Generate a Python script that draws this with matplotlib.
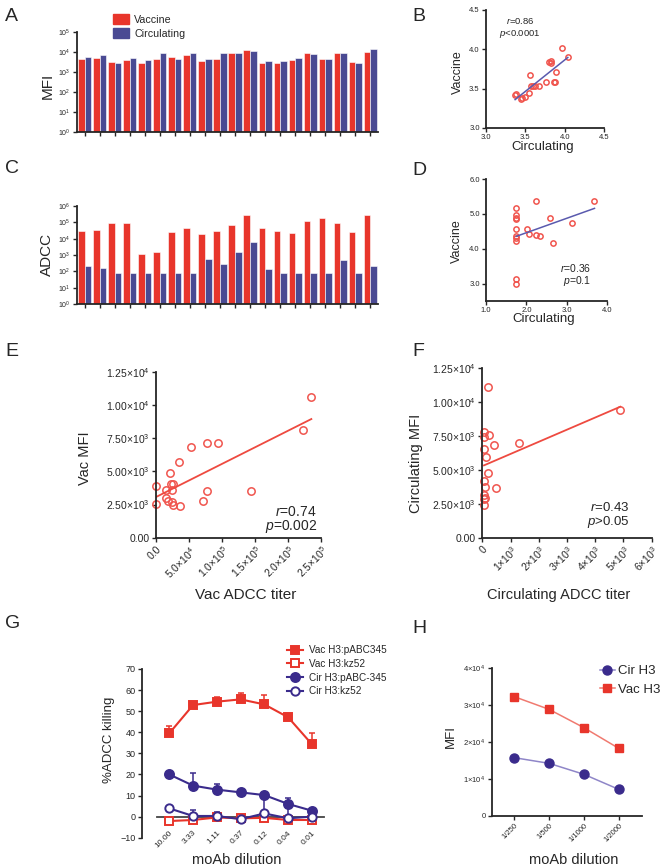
import numpy as np
import matplotlib
matplotlib.use("Agg")
import matplotlib.pyplot as plt
from matplotlib.patches import Patch
from matplotlib.lines import Line2D

plt.rcParams['font.family'] = ['Liberation Sans', 'DejaVu Sans']
plt.rcParams['mathtext.fontset'] = 'custom'
plt.rcParams['mathtext.rm'] = 'Liberation Sans'
plt.rcParams['mathtext.it'] = 'Liberation Sans:italic'
plt.rcParams['mathtext.default'] = 'regular'
for k in ['text.color', 'axes.labelcolor', 'xtick.color', 'ytick.color']:
    plt.rcParams[k] = '#262626'

# ---- data ----
# A: MFI per donor, log10
mfi_vac_log = [3.63, 3.68, 3.52, 3.62, 3.47, 3.67, 3.77, 3.83, 3.55, 3.67,
               3.93, 4.12, 3.47, 3.47, 3.62, 3.93, 3.63, 3.93, 3.52, 4.00]
mfi_cir_log = [3.77, 3.85, 3.47, 3.72, 3.58, 3.95, 3.65, 3.97, 3.63, 3.97,
               3.93, 4.07, 3.55, 3.53, 3.68, 3.90, 3.65, 3.93, 3.47, 4.13]
# C: ADCC titer per donor, log10
adcc_vac_log = [4.49, 4.51, 4.94, 4.98, 3.09, 3.21, 4.43, 4.65, 4.27, 4.45,
                4.82, 5.44, 4.67, 4.49, 4.33, 5.08, 5.24, 4.98, 4.41, 5.44]
adcc_cir_log = [2.35, 2.18, 1.88, 1.88, 1.88, 1.88, 1.88, 1.88, 2.75, 2.43,
                3.19, 3.79, 2.14, 1.88, 1.88, 1.88, 1.88, 2.69, 1.88, 2.35]
# B: log MFI, circulating vs vaccine
b_cir = [3.37, 3.38, 3.44, 3.46, 3.49, 3.55, 3.56, 3.57, 3.60, 3.62, 3.68,
         3.76, 3.80, 3.82, 3.83, 3.87, 3.88, 3.89, 3.97, 4.04]
b_vac = [3.42, 3.43, 3.37, 3.38, 3.39, 3.45, 3.68, 3.53, 3.53, 3.53, 3.54,
         3.59, 3.84, 3.85, 3.83, 3.58, 3.59, 3.71, 4.02, 3.90]
# D: log ADCC, circulating vs vaccine
d_cir = [1.75, 1.75, 1.75, 1.75, 1.75, 1.75, 1.75, 1.75, 1.75, 1.75,
         2.01, 2.07, 2.24, 2.24, 2.33, 2.59, 2.66, 3.12, 3.69]
d_vac = [5.16, 4.97, 4.87, 4.85, 4.56, 4.37, 4.30, 4.23, 3.14, 3.00,
         4.57, 4.41, 5.36, 4.39, 4.37, 4.89, 4.17, 4.73, 5.38]
# E: Vac ADCC titer vs Vac MFI
e_adcc = [0, 1000, 15100, 15100, 19200, 21200, 23200, 24200, 25200, 25700,
          26700, 35300, 37300, 53400, 71600, 77100, 78100, 94800, 144200,
          222300, 235400]
e_mfi = [2510, 3915, 3590, 2960, 2760, 4900, 4040, 3590, 2710, 2490,
         4040, 5720, 2410, 6830, 2760, 3510, 7130, 7130, 3540, 8110, 10590]
# F: Circulating ADCC titer vs Circulating MFI
f_adcc = [189, 59, 248, 59, 401, 1310, 59, 130, 189, 59, 83, 472, 59, 94,
          59, 59, 4888]
f_mfi = [11100, 7790, 7550, 7430, 6810, 6960, 6520, 5930, 4750, 4170, 3750,
         3630, 3140, 2890, 2820, 2400, 9390]
# G: %ADCC killing vs moAb dilution
g_dil = ['10.00', '3.33', '1.11', '0.37', '0.12', '0.04', '0.01']
vac_pabc = [39.5, 52.9, 54.5, 55.6, 53.2, 47.1, 34.3]
vac_pabc_err = [3.3, 0.8, 2.0, 3.0, 4.3, 0.5, 5.3]
vac_kz = [-2.1, -1.6, -0.4, -0.8, -0.6, -1.6, -1.6]
vac_kz_err = [0.4, 0.4, 0.4, 0.4, 0.4, 0.4, 0.4]
cir_pabc = [20.0, 14.7, 12.8, 11.5, 10.2, 6.0, 2.8]
cir_pabc_err = [0.5, 5.8, 2.7, 0.5, 0.5, 2.9, 0.5]
cir_kz = [3.9, 0.3, 0.3, -1.2, 1.5, -0.8, 0.0]
cir_kz_err = [0.5, 3.0, 1.8, 0.5, 8.5, 5.0, 0.5]
# H: MFI vs moAb dilution
h_dil = ['1/250', '1/500', '1/1000', '1/2000']
h_cir = [15730, 14200, 11240, 7190]
h_vac = [32180, 28760, 23820, 18250]

RED = '#E8352B'
BLUE = '#4A4A93'
SCAT = '#F0554E'
FIT_BLUE = '#5A5AAE'
NAVY = '#3A2B8C'

W, H = 662, 867
fig = plt.figure(figsize=(W / 100, H / 100), dpi=100)


def px_axes(x0, y0, x1, y1):
    return fig.add_axes([x0 / W, 1 - y1 / H, (x1 - x0) / W, (y1 - y0) / H])


def style(ax, ts=6):
    for s in ['top', 'right']:
        ax.spines[s].set_visible(False)
    for s in ['left', 'bottom']:
        ax.spines[s].set_linewidth(1.3)
        ax.spines[s].set_color('#262626')
    ax.tick_params(direction='out', length=3, width=1, labelsize=ts, pad=1.5)


def panel(x, y, s):
    fig.text(x / W, 1 - y / H, s, fontsize=14, va='top', ha='left')


# ---- A ----
axA = px_axes(77, 32, 378, 132)
idx = np.arange(len(mfi_vac_log))
axA.bar(idx - 0.22, 10 ** np.array(mfi_vac_log) - 1, bottom=1, width=0.44,
        color=RED, edgecolor='white', linewidth=0.4)
axA.bar(idx + 0.22, 10 ** np.array(mfi_cir_log) - 1, bottom=1, width=0.44,
        color=BLUE, edgecolor='white', linewidth=0.4)
axA.set_yscale('log')
axA.set_ylim(1, 1e5)
axA.set_xlim(-0.5, len(idx) - 0.5)
axA.set_yticks([10 ** k for k in range(6)])
axA.set_yticklabels(['10$^{%d}$' % k for k in range(6)])
axA.minorticks_off()
axA.set_xticks(idx)
axA.set_xticklabels([])
style(axA, ts=5)
axA.set_ylabel('MFI', fontsize=11)
axA.yaxis.set_label_coords(-0.073, 0.46)
fig.legend([Patch(color=RED), Patch(color=BLUE)], ['Vaccine', 'Circulating'],
           loc='upper left', bbox_to_anchor=(113 / W, 1 - 14 / H),
           frameon=False, fontsize=7.7, handlelength=1.5, handleheight=1.1,
           labelspacing=0.3, handletextpad=0.5, borderpad=0, borderaxespad=0)

# ---- C ----
axC = px_axes(77, 206, 378, 304)
axC.bar(idx - 0.22, 10 ** np.array(adcc_vac_log) - 1, bottom=1, width=0.44,
        color=RED, edgecolor='white', linewidth=0.4)
axC.bar(idx + 0.22, 10 ** np.array(adcc_cir_log) - 1, bottom=1, width=0.44,
        color=BLUE, edgecolor='white', linewidth=0.4)
axC.set_yscale('log')
axC.set_ylim(1, 1e6)
axC.set_xlim(-0.5, len(idx) - 0.5)
axC.set_yticks([10 ** k for k in range(7)])
axC.set_yticklabels(['10$^{%d}$' % k for k in range(7)])
axC.minorticks_off()
axC.set_xticks(idx)
axC.set_xticklabels([])
style(axC, ts=5)
axC.set_ylabel('ADCC', fontsize=11)
axC.yaxis.set_label_coords(-0.076, 0.51)


def scatter_fit(ax, x, y, ms, fitc, lw):
    ax.plot(x, y, 'o', ms=ms, mfc='none', mec=SCAT, mew=1.1, clip_on=False)
    a, b = np.polyfit(x, y, 1)
    xs = np.array([min(x), max(x)])
    ax.plot(xs, a * xs + b, color=fitc, lw=lw)


# ---- B ----
axB = px_axes(486, 10, 604, 128)
scatter_fit(axB, b_cir, b_vac, 3.8, FIT_BLUE, 1.1)
axB.set_xlim(3, 4.5)
axB.set_ylim(3, 4.5)
axB.set_xticks([3.0, 3.5, 4.0, 4.5])
axB.set_yticks([3.0, 3.5, 4.0, 4.5])
axB.xaxis.set_major_formatter('{x:.1f}')
axB.yaxis.set_major_formatter('{x:.1f}')
style(axB, ts=5.5)
axB.set_ylabel('Vaccine', fontsize=9)
axB.yaxis.set_label_coords(-0.19, 0.47)
axB.set_xlabel('Circulating', fontsize=9.5)
axB.xaxis.set_label_coords(0.48, -0.11)
axB.text(0.29, 0.91, '$\\it{r}$=0.86', transform=axB.transAxes, ha='center',
         va='center', fontsize=6.8)
axB.text(0.29, 0.80, '$\\it{p}$<0.0001', transform=axB.transAxes, ha='center',
         va='center', fontsize=6.8)

# ---- D ----
axD = px_axes(486, 179, 607, 301)
scatter_fit(axD, d_cir, d_vac, 3.8, FIT_BLUE, 1.1)
axD.set_xlim(1, 4)
axD.set_ylim(2.5, 6)
axD.set_xticks([1.0, 2.0, 3.0, 4.0])
axD.set_yticks([3.0, 4.0, 5.0, 6.0])
axD.xaxis.set_major_formatter('{x:.1f}')
axD.yaxis.set_major_formatter('{x:.1f}')
style(axD, ts=5.5)
axD.set_ylabel('Vaccine', fontsize=9)
axD.yaxis.set_label_coords(-0.19, 0.49)
axD.set_xlabel('Circulating', fontsize=9.5)
axD.xaxis.set_label_coords(0.475, -0.095)
axD.text(0.61, 0.27, '$\\it{r}$=0.36', transform=axD.transAxes, ha='left',
         va='center', fontsize=7.5)
axD.text(0.64, 0.16, '$\\it{p}$=0.1', transform=axD.transAxes, ha='left',
         va='center', fontsize=7.5)

# ---- E ----
axE = px_axes(155.7, 371.7, 321, 537.7)
scatter_fit(axE, e_adcc, e_mfi, 5.3, '#EE4A40', 1.3)
axE.set_xlim(0, 2.5e5)
axE.set_ylim(0, 1.25e4)
axE.set_xticks([0, 5e4, 1e5, 1.5e5, 2e5, 2.5e5])
axE.set_xticklabels(['0.0', '5.0×10$^{4}$', '1.0×10$^{5}$', '1.5×10$^{5}$',
                     '2.0×10$^{5}$', '2.5×10$^{5}$'], rotation=45, ha='right',
                    rotation_mode='anchor')
axE.set_yticks([0, 2500, 5000, 7500, 10000, 12500])
axE.set_yticklabels(['0.00', '2.50×10$^{3}$', '5.00×10$^{3}$', '7.50×10$^{3}$',
                     '1.00×10$^{4}$', '1.25×10$^{4}$'])
style(axE, ts=7.5)
axE.set_ylabel('Vac MFI', fontsize=10.5)
axE.yaxis.set_label_coords(-0.387, 0.48)
axE.set_xlabel('Vac ADCC titer', fontsize=11)
axE.xaxis.set_label_coords(0.545, -0.30)
axE.text(0.975, 0.157, '$\\it{r}$=0.74', transform=axE.transAxes, ha='right',
         va='center', fontsize=10)
axE.text(0.975, 0.07, '$\\it{p}$=0.002', transform=axE.transAxes, ha='right',
         va='center', fontsize=10)

# ---- F ----
axF = px_axes(482.3, 367.7, 651.7, 537.7)
scatter_fit(axF, f_adcc, f_mfi, 5.3, '#EE4A40', 1.3)
axF.set_xlim(0, 6e3)
axF.set_ylim(0, 1.25e4)
axF.set_xticks([0, 1e3, 2e3, 3e3, 4e3, 5e3, 6e3])
axF.set_xticklabels(['0'] + ['%d×10$^{3}$' % k for k in range(1, 7)],
                    rotation=45, ha='right', rotation_mode='anchor')
axF.set_yticks([0, 2500, 5000, 7500, 10000, 12500])
axF.set_yticklabels(['0.00', '2.50×10$^{3}$', '5.00×10$^{3}$', '7.50×10$^{3}$',
                     '1.00×10$^{4}$', '1.25×10$^{4}$'])
style(axF, ts=7.5)
axF.set_ylabel('Circulating MFI', fontsize=10.5)
axF.yaxis.set_label_coords(-0.348, 0.44)
axF.set_xlabel('Circulating ADCC titer', fontsize=10.5)
axF.xaxis.set_label_coords(0.453, -0.296)
axF.text(0.87, 0.175, '$\\it{r}$=0.43', transform=axF.transAxes, ha='right',
         va='center', fontsize=9.5)
axF.text(0.87, 0.092, '$\\it{p}$>0.05', transform=axF.transAxes, ha='right',
         va='center', fontsize=9.5)

# ---- G ----
axG = px_axes(141.7, 669, 330, 837.7)
gx = np.arange(len(g_dil))
axG.axhline(0, xmin=0.08, xmax=0.97, color='#444444', lw=1.3, zorder=1)
series = [
    (vac_pabc, vac_pabc_err, 's', RED, RED, 'Vac H3:pABC345', 5.5),
    (vac_kz, vac_kz_err, 's', RED, 'white', 'Vac H3:kz52', 5.5),
    (cir_pabc, cir_pabc_err, 'o', NAVY, NAVY, 'Cir H3:pABC-345', 6.5),
    (cir_kz, cir_kz_err, 'o', NAVY, 'white', 'Cir H3:kz52', 6),
]
handles = []
for vals, err, mk, col, face, lab, ms in series:
    axG.errorbar(gx, vals, yerr=[np.zeros(len(err)), err], fmt='none',
                 ecolor=col, elinewidth=1.1, capsize=2.5, capthick=1.1, zorder=2)
    axG.plot(gx, vals, '-', marker=mk, color=col, mfc=face, mec=col, mew=1.4,
             ms=ms, lw=1.5, zorder=3)
    handles.append(Line2D([], [], color=col, marker=mk, mfc=face, mec=col,
                          mew=1.4, ms=ms, lw=1.5))
axG.set_xlim(-1.16, 6.76)
axG.set_ylim(-10, 70)
axG.set_yticks(range(-10, 71, 10))
axG.set_xticks(gx)
axG.set_xticklabels(g_dil, rotation=45, ha='right', rotation_mode='anchor')
style(axG, ts=6.5)
axG.spines['bottom'].set_visible(False)
axG.tick_params(axis='x', length=0, pad=-6, labelsize=6)
axG.set_ylabel('%ADCC killing', fontsize=9.5)
axG.yaxis.set_label_coords(-0.142, 0.58)
axG.set_xlabel('moAb dilution', fontsize=10.5)
axG.xaxis.set_label_coords(0.504, -0.09)
fig.legend(handles, [s[5] for s in series], loc='upper left',
           bbox_to_anchor=(287 / W, 1 - 645 / H), frameon=False, fontsize=7.2,
           handlelength=1.6, labelspacing=0.38, handletextpad=0.6,
           borderpad=0, borderaxespad=0)

# ---- H ----
axH = px_axes(491.7, 667.7, 641.7, 816)
hx = np.arange(len(h_dil))
lc, = axH.plot(hx, h_cir, '-o', color='#8F86C8', mfc=NAVY, mec=NAVY, ms=6.5,
               lw=1.1)
lv, = axH.plot(hx, h_vac, '-s', color='#F07A70', mfc=RED, mec=RED, ms=5.5,
               lw=1.1)
axH.set_xlim(-0.65, 3.66)
axH.set_ylim(0, 4e4)
axH.set_yticks([0, 1e4, 2e4, 3e4, 4e4])
axH.set_yticklabels(['0'] + ['%d×10$^{4}$' % k for k in range(1, 5)])
axH.set_xticks(hx)
axH.set_xticklabels(h_dil, rotation=45, ha='right', rotation_mode='anchor')
style(axH, ts=5.5)
axH.set_ylabel('MFI', fontsize=9.5)
axH.yaxis.set_label_coords(-0.233, 0.535)
axH.set_xlabel('moAb dilution', fontsize=10.5)
axH.xaxis.set_label_coords(0.544, -0.25)
fig.legend([lc, lv], ['Cir H3', 'Vac H3'], loc='upper left',
           bbox_to_anchor=(600 / W, 1 - 665 / H), frameon=False, fontsize=9.5,
           handlelength=1.1, labelspacing=0.5, handletextpad=0.3,
           borderpad=0, borderaxespad=0)

for x, y, s in [(5, 8, 'A'), (412, 8, 'B'), (5, 160, 'C'), (412, 162, 'D'),
                (5, 343, 'E'), (412, 343, 'F'), (5, 615, 'G'), (412, 620, 'H')]:
    panel(x, y, s)

fig.savefig('out.png', dpi=100)
